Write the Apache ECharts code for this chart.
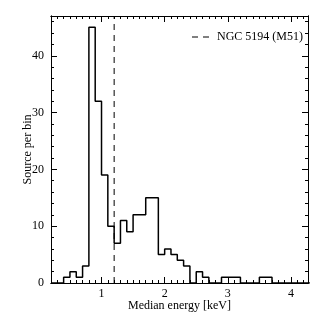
<!DOCTYPE html>
<html>
<head>
<meta charset="utf-8">
<script src="https://cdn.jsdelivr.net/npm/echarts@6/dist/echarts.min.js"></script>
<style>html,body{margin:0;padding:0;background:#fff}#c{width:316px;height:316px}</style>
</head>
<body>
<div id="c"></div>
<script>
// Histogram bins (left edges, keV) and counts per bin
const binLeft = [0.2,0.3,0.4,0.5,0.6,0.7,0.8,0.9,1.0,1.1,1.2,1.3,1.4,1.5,1.6,1.7,1.8,1.9,2.0,2.1,2.2,2.3,2.4,2.5,2.6,2.7,2.8,2.9,3.0,3.1,3.2,3.3,3.4,3.5,3.6,3.7,3.8,3.9,4.0,4.1,4.2];
const counts  = [0,0,1,2,1,3,45,32,19,10,7,11,9,12,12,15,15,5,6,5,4,3,0,2,1,0,0,1,1,1,0,0,0,1,1,0,0,0,0,0,0];
const binWidth = 0.1;
// Reference line
const refEnergy = 1.2;
const refLabel = 'NGC 5194 (M51)';
// Axis ticks
const xMajor = [1,2,3,4];
const xMinor = [0.3,0.4,0.5,0.6,0.7,0.8,0.9,1.1,1.2,1.3,1.4,1.5,1.6,1.7,1.8,1.9,2.1,2.2,2.3,2.4,2.5,2.6,2.7,2.8,2.9,3.1,3.2,3.3,3.4,3.5,3.6,3.7,3.8,3.9,4.1,4.2];
const yMajor = [0,10,20,30,40];
const yMinor = [2,4,6,8,12,14,16,18,22,24,26,28,32,34,36,38,42,44,46];
const xMin = 0.2, xMax = 4.27, yMin = 0, yMax = 47;

const histData = binLeft.map((x,i)=>[x, counts[i]]);
histData.push([binLeft[binLeft.length-1]+binWidth, counts[counts.length-1]]);

const font = 'Liberation Serif';
const black = '#000';
function xAx(pos, ticks, len, labels){
  return {
    type:'value', min:xMin, max:xMax, position:pos,
    axisLine:{show:true, onZero:false, lineStyle:{color:black, width:1}},
    axisTick:{show:true, inside:true, length:len, customValues:ticks, lineStyle:{color:black, width:1}},
    axisLabel: labels ? {show:true, customValues:xMajor, color:black, fontFamily:font, fontSize:12, margin:5} : {show:false},
    splitLine:{show:false}
  };
}
function yAx(pos, ticks, len, labels){
  return {
    type:'value', min:yMin, max:yMax, position:pos,
    axisLine:{show:true, onZero:false, lineStyle:{color:black, width:1}},
    axisTick:{show:true, inside:true, length:len, customValues:ticks, lineStyle:{color:black, width:1}},
    axisLabel: labels ? {show:true, customValues:yMajor, color:black, fontFamily:font, fontSize:12, margin:7} : {show:false},
    splitLine:{show:false}
  };
}
const xAxes = [xAx('bottom', xMajor, 6, true), xAx('bottom', xMinor, 3, false), xAx('top', xMajor, 6, false), xAx('top', xMinor, 3, false)];
xAxes[0].name = 'Median energy [keV]';
xAxes[0].nameLocation = 'middle';
xAxes[0].nameGap = 17;
xAxes[0].nameMoveOverlap = false;
xAxes[0].nameTextStyle = {color:black, fontFamily:font, fontSize:12};
const yAxes = [yAx('left', yMajor, 6, true), yAx('left', yMinor, 3, false), yAx('right', yMajor, 6, false), yAx('right', yMinor, 3, false)];
yAxes[0].name = 'Source per bin';
yAxes[0].nameLocation = 'middle';
yAxes[0].nameGap = 17;
yAxes[0].nameMoveOverlap = false;
yAxes[0].nameTextStyle = {color:black, fontFamily:font, fontSize:12};

const chart = echarts.init(document.getElementById('c'), null, {renderer:'canvas'});
chart.setOption({
  animation:false,
  backgroundColor:'#fff',
  grid:{left:51, right:8, top:16, bottom:33, containLabel:false, outerBoundsMode:'none'},
  legend:{
    show:true, right:8, top:26, itemWidth:20, itemHeight:10, itemGap:6,
    data:[refLabel],
    itemStyle:{color:'rgba(0,0,0,0)', borderWidth:0},
    lineStyle:{color:black, width:1, type:[6,5]},
    textStyle:{color:black, fontFamily:font, fontSize:12}
  },
  xAxis:xAxes,
  yAxis:yAxes,
  series:[
    {
      type:'line', name:'hist', step:'end', data:histData, symbol:'none',
      xAxisIndex:0, yAxisIndex:0,
      lineStyle:{color:black, width:1.5}, clip:true, z:3
    },
    {
      type:'line', name:refLabel, data:[[refEnergy,yMin],[refEnergy,yMax]], symbol:'none',
      xAxisIndex:0, yAxisIndex:0,
      lineStyle:{color:black, width:1, type:[6,5]}, itemStyle:{color:black}, z:2
    }
  ]
});
</script>
</body>
</html>
